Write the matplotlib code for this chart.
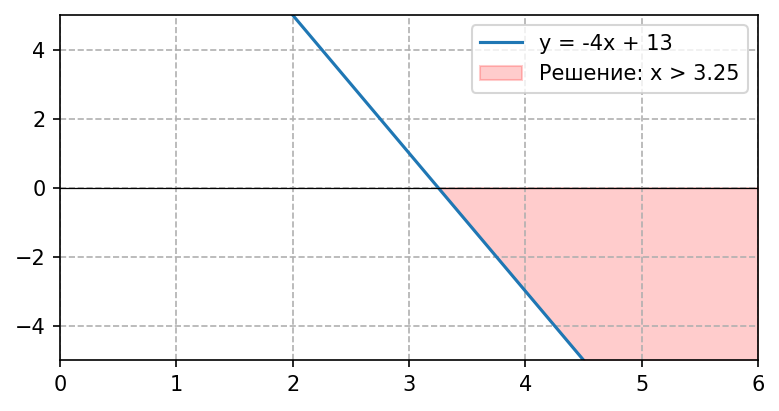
import matplotlib
matplotlib.use('Agg')
import matplotlib.pyplot as plt
import numpy as np

# line y = k*x + b and the solution bound
K = -4
B = 13
X_BOUND = 3.25
X_RANGE = [0, 6]
Y_RANGE = [-5, 5]

x = np.linspace(X_RANGE[0], X_RANGE[1], 400)
y = K * x + B

fig = plt.figure(figsize=(779 / 150, 411 / 150), dpi=150)
ax = fig.add_axes([0.077, 0.124, 0.896, 0.8395])

ax.plot(x, y, color='#1f77b4', linewidth=1.5, label='y = -4x + 13')
ax.fill_between(x, y, 0, where=(x >= X_BOUND), color='red', alpha=0.2,
                label='Решение: x > 3.25')
ax.axhline(0, color='black', linewidth=0.6)

ax.set_xlim(X_RANGE)
ax.set_ylim(Y_RANGE)
ax.grid(True, linestyle='--', color='#b0b0b0', linewidth=0.8)
ax.legend(loc='upper right')

fig.savefig('out.png', dpi=150)
